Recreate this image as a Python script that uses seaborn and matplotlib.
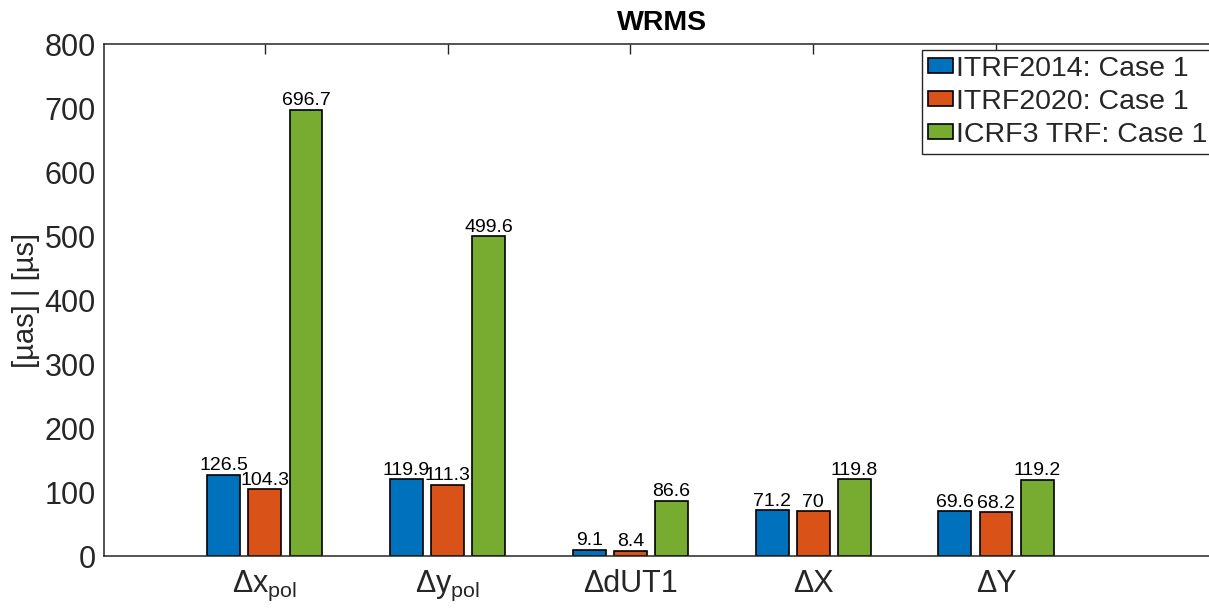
import matplotlib
matplotlib.use("Agg")
import matplotlib.pyplot as plt
import pandas as pd
import seaborn as sns

# Parameters and series
categories = [r"$\Delta$x$_{\mathrm{pol}}$", r"$\Delta$y$_{\mathrm{pol}}$",
              "ΔdUT1", "ΔX", "ΔY"]
series = ["ITRF2014: Case 1", "ITRF2020: Case 1", "ICRF3 TRF: Case 1"]
itrf2014 = [126.5, 119.9, 9.1, 71.2, 69.6]
itrf2020 = [104.3, 111.3, 8.4, 70, 68.2]
icrf3_trf = [696.7, 499.6, 86.6, 119.8, 119.2]
colors = ["#0072BD", "#D95319", "#77AC30"]
y_ticks = [0, 100, 200, 300, 400, 500, 600, 700, 800]

sns.set_style("white")
ink = "#262626"
plt.rcParams.update({
    "font.family": ["Liberation Sans", "DejaVu Sans"],
    "mathtext.fontset": "custom",
    "mathtext.rm": "Liberation Sans",
    "mathtext.it": "Liberation Sans",
    "mathtext.sf": "Liberation Sans",
    "mathtext.bf": "Liberation Sans:bold",
})

rows = []
for name, vals in zip(series, [itrf2014, itrf2020, icrf3_trf]):
    for cat, v in zip(categories, vals):
        rows.append({"param": cat, "series": name, "value": v})
df = pd.DataFrame(rows)

fig = plt.figure(figsize=(12.09, 6.10), dpi=100)
ax = fig.add_axes([104 / 1209, 54 / 610, 1129.6 / 1209, 512 / 610])

sns.barplot(data=df, x="param", y="value", hue="series", order=categories,
            hue_order=series, palette=colors, width=0.675, gap=0.2,
            edgecolor="black", linewidth=1.2, saturation=1, errorbar=None,
            ax=ax)

for cont in ax.containers:
    ax.bar_label(cont, fmt="{:g}", padding=0.5, fontsize=14, color="black")

ax.set_xlim(-0.88, 5.3)
ax.set_ylim(0, 800)
ax.set_yticks(y_ticks)
ax.set_xlabel("")
ax.set_ylabel("[µas] | [µs]", fontsize=21, color=ink, labelpad=3)
ax.set_title("WRMS", fontsize=20.5, fontweight="bold", color="black",
             pad=10, x=0.494)

ax.set_axisbelow(False)
ax.tick_params(axis="both", direction="in", length=7.5, width=1.0,
               color=ink, labelcolor=ink, labelsize=22)
ax.tick_params(axis="x", top=True, pad=9)
ax.tick_params(axis="y", pad=6)
for side in ["left", "top", "bottom"]:
    ax.spines[side].set_color(ink)
    ax.spines[side].set_linewidth(1.1)
ax.spines["right"].set_visible(False)

handles, labels = ax.get_legend_handles_labels()
ax.get_legend().remove()
leg = fig.legend(handles, labels, loc="upper left",
                 bbox_to_anchor=(922 / 1209, (610 - 50) / 610),
                 bbox_transform=fig.transFigure, borderaxespad=0,
                 fontsize=20.5, frameon=True, fancybox=False, shadow=False,
                 framealpha=1, edgecolor=ink, handlelength=0.9,
                 handleheight=0.45, handletextpad=0.1, labelspacing=0.25,
                 borderpad=0.2)
leg.get_frame().set_linewidth(1.0)

fig.savefig("out.png", dpi=100)
